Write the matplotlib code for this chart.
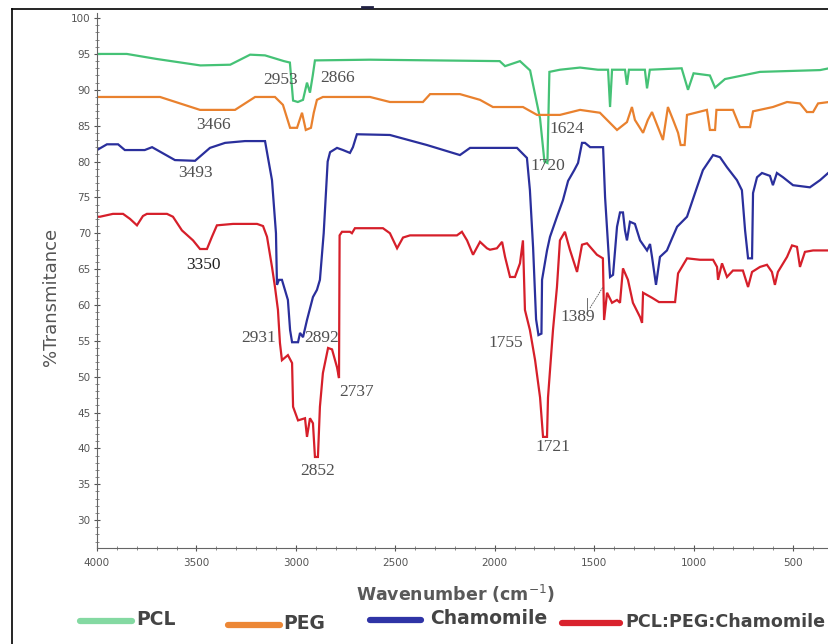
import matplotlib
matplotlib.use("Agg")
import matplotlib.pyplot as plt
from matplotlib.lines import Line2D
from matplotlib.ticker import MultipleLocator

# FTIR spectra (wavenumber cm-1, % transmittance)
pcl_wn = [4000, 3850, 3700, 3480, 3330, 3230, 3155, 3060, 3030, 3014, 2990, 2964, 2944,
          2929, 2915, 2904, 2627, 2300, 1975, 1948, 1873, 1822, 1772, 1750, 1735, 1725,
          1672, 1571, 1481, 1430, 1420, 1410, 1345, 1335, 1325, 1245, 1234, 1220, 1060,
          1028, 1000, 918, 892, 842, 666, 364, 319]
pcl_t = [95.0, 95.0, 94.3, 93.4, 93.5, 94.9, 94.8, 94.0, 93.8, 88.5, 88.3, 88.6, 91.0,
         89.6, 92.0, 94.1, 94.2, 94.1, 94.0, 93.3, 94.0, 92.7, 86.0, 80.0, 79.8, 92.5,
         92.8, 93.1, 92.8, 92.8, 87.6, 92.8, 92.8, 90.7, 92.8, 92.8, 90.2, 92.8, 93.0,
         90.0, 92.3, 92.0, 90.3, 91.5, 92.5, 92.75, 93.0]

peg_wn = [4000, 3683, 3482, 3306, 3205, 3105, 3065, 3029, 2994, 2969, 2950, 2924, 2910,
          2894, 2864, 2627, 2527, 2361, 2325, 2175, 2074, 2009, 1858, 1787, 1672, 1571,
          1471, 1385, 1335, 1310, 1295, 1254, 1230, 1209, 1154, 1129, 1103, 1078, 1065,
          1045, 1033, 933, 918, 892, 885, 802, 767, 716, 701, 601, 530, 465, 430, 399,
          374, 319]
peg_t = [89.0, 89.0, 87.2, 87.2, 89.0, 89.0, 87.9, 84.7, 84.7, 86.8, 84.4, 84.7, 86.8,
         88.6, 89.0, 89.0, 88.3, 88.3, 89.4, 89.4, 88.6, 87.6, 87.6, 86.5, 86.5, 87.2,
         86.8, 84.4, 85.5, 87.6, 85.8, 84.0, 85.8, 86.9, 83.0, 87.6, 85.8, 84.0, 82.3,
         82.3, 86.5, 87.2, 84.4, 84.4, 87.2, 87.2, 84.8, 84.8, 87.0, 87.6, 88.3, 88.1,
         86.9, 86.9, 88.1, 88.3]

cham_wn = [4000, 3950, 3894, 3860, 3760, 3723, 3608, 3507, 3432, 3356, 3256, 3155, 3140,
           3120, 3100, 3095, 3085, 3070, 3040, 3029, 3019, 2989, 2979, 2964, 2944, 2914,
           2894, 2879, 2860, 2840, 2828, 2793, 2763, 2728, 2713, 2693, 2527, 2341, 2175,
           2124, 1888, 1838, 1823, 1807, 1792, 1780, 1765, 1762, 1737, 1722, 1687, 1657,
           1631, 1600, 1581, 1561, 1546, 1520, 1455, 1445, 1420, 1405, 1385, 1370, 1355,
           1345, 1335, 1320, 1295, 1269, 1234, 1219, 1209, 1189, 1169, 1134, 1108, 1083,
           1033, 983, 953, 902, 867, 832, 782, 757, 741, 726, 706, 701, 681, 656, 616,
           601, 581, 550, 500, 415, 364, 319]
cham_t = [81.6, 82.4, 82.4, 81.6, 81.6, 82.0, 80.2, 80.1, 81.9, 82.6, 82.85, 82.85, 80.5,
          77.4, 70.0, 62.8, 63.5, 63.5, 60.7, 56.5, 54.8, 54.8, 56.1, 55.5, 57.9, 61.1,
          62.1, 63.5, 70.0, 80.0, 81.3, 81.9, 81.6, 81.2, 82.0, 83.8, 83.7, 82.3, 80.9,
          81.9, 81.9, 80.5, 76.0, 68.0, 58.0, 55.8, 56.0, 63.5, 67.6, 69.5, 72.3, 74.6,
          77.3, 78.8, 79.8, 82.6, 82.6, 82.0, 82.0, 75.0, 63.9, 64.2, 70.9, 72.9, 72.9,
          70.4, 69.0, 71.6, 71.3, 69.0, 67.6, 68.5, 66.7, 62.8, 66.7, 67.6, 69.3, 70.9,
          72.3, 76.4, 78.8, 80.9, 80.6, 79.2, 77.4, 76.0, 70.4, 66.5, 66.5, 75.6, 77.8,
          78.4, 78.0, 76.7, 78.4, 77.8, 76.7, 76.4, 77.4, 78.5]

blend_wn = [4000, 3985, 3920, 3869, 3834, 3799, 3769, 3749, 3648, 3618, 3573, 3517, 3482,
            3447, 3422, 3397, 3316, 3195, 3165, 3145, 3120, 3105, 3090, 3080, 3070, 3040,
            3019, 3014, 2989, 2954, 2944, 2929, 2914, 2904, 2889, 2879, 2864, 2838, 2818,
            2793, 2783, 2780, 2768, 2728, 2718, 2703, 2662, 2562, 2527, 2491, 2461, 2426,
            2190, 2165, 2139, 2109, 2074, 2039, 2024, 1989, 1963, 1948, 1923, 1898, 1873,
            1858, 1848, 1823, 1797, 1772, 1757, 1737, 1732, 1707, 1687, 1672, 1647, 1622,
            1586, 1561, 1536, 1486, 1456, 1450, 1435, 1410, 1385, 1370, 1355, 1330, 1305,
            1269, 1259, 1254, 1209, 1174, 1093, 1078, 1033, 968, 902, 882, 877, 857, 832,
            802, 752, 726, 706, 666, 631, 606, 591, 576, 530, 505, 480, 465, 440, 399, 319]
blend_t = [72.3, 72.3, 72.7, 72.7, 72.0, 71.1, 72.4, 72.7, 72.7, 72.3, 70.4, 69.0, 67.8,
           67.8, 69.5, 71.1, 71.3, 71.3, 71.0, 69.5, 65.3, 62.5, 59.3, 54.7, 52.3, 53.0,
           51.9, 45.8, 43.9, 44.2, 41.6, 44.2, 43.5, 38.8, 38.8, 45.8, 50.5, 54.0, 53.8,
           51.3, 49.8, 69.7, 70.2, 70.2, 70.0, 70.7, 70.7, 70.7, 70.0, 67.9, 69.4, 69.7,
           69.7, 70.2, 69.0, 67.0, 68.8, 67.9, 67.7, 67.9, 68.8, 66.7, 63.9, 63.9, 65.8,
           69.0, 59.3, 56.5, 52.3, 47.1, 41.6, 41.6, 47.1, 56.5, 62.5, 69.0, 70.2, 67.7,
           64.6, 68.4, 68.6, 67.0, 66.5, 57.9, 61.7, 60.3, 60.7, 60.3, 65.1, 63.5, 60.3,
           58.3, 57.5, 61.7, 61.0, 60.4, 60.4, 64.4, 66.5, 66.3, 66.3, 65.3, 63.5, 65.8,
           63.9, 64.8, 64.8, 62.5, 64.6, 65.3, 65.6, 64.6, 62.8, 64.6, 66.7, 68.3, 68.1,
           65.3, 67.4, 67.6, 67.6]

series_names = ["PCL", "PEG", "Chamomile", "PCL:PEG:Chamomile"]
line_colors = ["#45c276", "#e9812e", "#2a2f9c", "#d61f2a"]
legend_colors = ["#84d9a2", "#ec8736", "#2f34a6", "#d9222d"]

# peak labels: text, wavenumber, transmittance
peak_text = ["2953", "2866", "3466", "3493", "1624", "1720", "3350", "2931", "2892",
             "2737", "2852", "1755", "1721", "1389"]
peak_wn = [3075, 2788, 3412, 3507, 1637, 1732, 3467, 3185, 2869, 2693, 2889, 1943, 1707, 1581]
peak_t = [91.35, 91.63, 85.08, 78.39, 84.52, 79.36, 65.56, 55.38, 55.38, 47.85, 36.83,
          54.68, 40.18, 58.3]

fig = plt.figure(figsize=(8.29, 6.44), dpi=100)
ax = fig.add_axes([0.117, 0.149, 0.883, 0.8307])

for wn, t, c in zip([pcl_wn, peg_wn, cham_wn, blend_wn],
                    [pcl_t, peg_t, cham_t, blend_t], line_colors):
    ax.plot(wn, t, color=c, lw=1.6, solid_joinstyle="miter")

for s, w, t in zip(peak_text, peak_wn, peak_t):
    col = "#222222" if s == "3350" else "#505050"
    ax.text(w, t, s, ha="center", va="center", fontsize=12.5,
            family="Liberation Serif", color=col)

# leader for 1389
ax.plot([1521, 1456], [59.56, 62.49], color="#555555", lw=0.6, ls=(0, (2, 1)))
ax.plot([1536, 1536], [59.3, 60.9], color="#555555", lw=0.6)

ax.set_xlim(4000, 319)
ax.set_ylim(26.1, 100.7)
ax.xaxis.set_minor_locator(MultipleLocator(100))
ax.yaxis.set_minor_locator(MultipleLocator(1))
ax.set_yticks(range(30, 101, 5))
ax.set_xticks(range(500, 4001, 500))

for sp in ["top", "right"]:
    ax.spines[sp].set_visible(False)
for sp in ["left", "bottom"]:
    ax.spines[sp].set_color("#666666")
    ax.spines[sp].set_linewidth(0.8)

ax.tick_params(axis="both", which="major", direction="inout", length=5, width=0.8,
               color="#555555", labelsize=7.5, labelcolor="#555555")
ax.tick_params(axis="both", which="minor", direction="inout", length=3, width=0.6,
               color="#777777")
ax.tick_params(axis="x", which="major", pad=5)
ax.tick_params(axis="y", which="major", pad=2)
for lab in ax.get_xticklabels() + ax.get_yticklabels():
    lab.set_family("Liberation Sans Narrow")

ax.set_ylabel("%Transmitance", fontsize=13, color="#555555")
ax.yaxis.set_label_coords(-0.05, 0.47)
ax.set_xlabel("Wavenumber (cm$^{-1}$)", fontsize=12.5, color="#595959",
              fontweight="bold")
ax.xaxis.set_label_coords(0.49, -0.066)

# legend drawn along the bottom
leg_x = [[80, 132], [228, 280], [370, 421], [562, 620]]
leg_y = [621, 625, 620, 623]
txt_x = [136, 283, 430, 625]
txt_size = [13.5, 13.5, 13.5, 12.6]
for (x0, x1), y, tx, fs, c, name in zip(leg_x, leg_y, txt_x, txt_size, legend_colors,
                                        series_names):
    fy = 1 - y / 644
    fig.add_artist(Line2D([x0 / 829, x1 / 829], [fy, fy], color=c, lw=4.5,
                          solid_capstyle="round"))
    fig.text(tx / 829, fy + 0.002, name, ha="left", va="center", fontsize=fs,
             fontweight="bold", color="#444444")

# outer frame
fig.add_artist(Line2D([12 / 829, 12 / 829], [0, 1 - 9 / 644], color="black", lw=1.2))
fig.add_artist(Line2D([12 / 829, 1], [1 - 9 / 644, 1 - 9 / 644], color="black", lw=1.2))
fig.add_artist(Line2D([362 / 829, 372 / 829], [1 - 7 / 644, 1 - 7 / 644], color="#222244", lw=2))

fig.savefig("out.png", dpi=100)
